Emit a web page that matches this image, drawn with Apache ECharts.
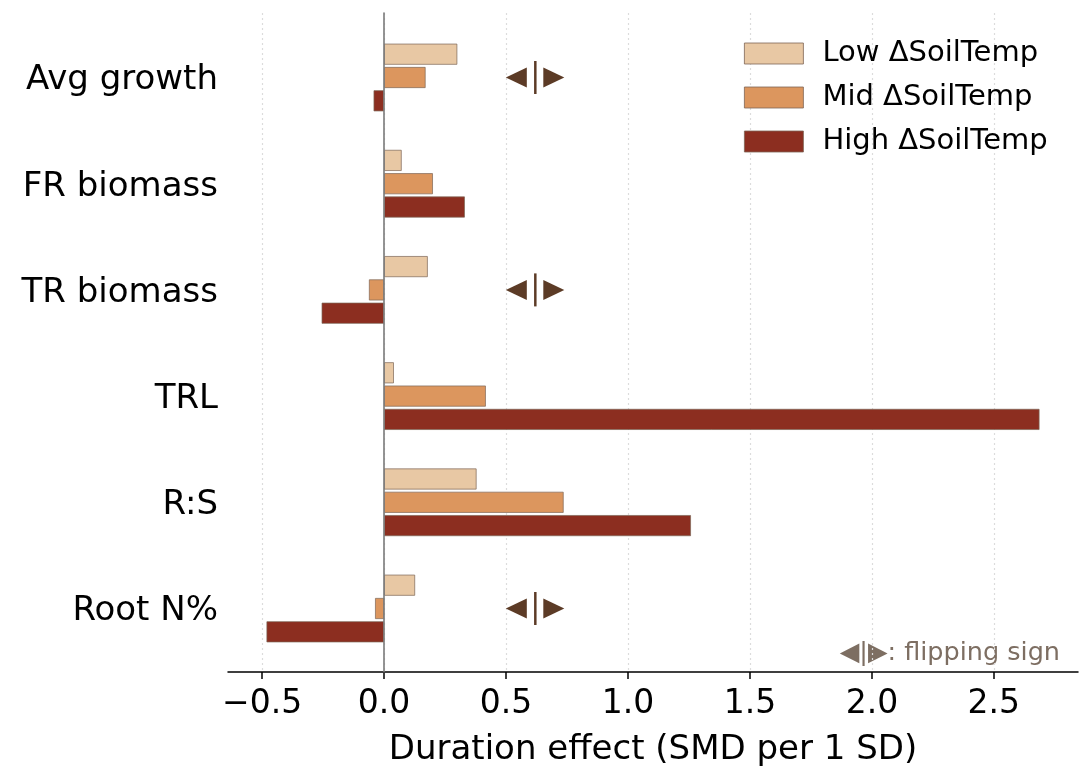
<!DOCTYPE html>
<html>
<head>
<meta charset="utf-8">
<script src="https://cdn.jsdelivr.net/npm/echarts@6/dist/echarts.min.js"></script>
<style>html,body{margin:0;padding:0;background:#fff}#c{width:1089px;height:779px}</style>
</head>
<body>
<div id="c"></div>
<script>
const categories = ['Avg growth', 'FR biomass', 'TR biomass', 'TRL', 'R:S', 'Root N%'];
const lowVals  = [0.300, 0.072, 0.179, 0.040, 0.379, 0.127];
const midVals  = [0.170, 0.200, -0.062, 0.417, 0.736, -0.037];
const highVals = [-0.043, 0.331, -0.256, 2.687, 1.258, -0.482];
const seriesNames = ['Low ΔSoilTemp', 'Mid ΔSoilTemp', 'High ΔSoilTemp'];
const flipCategories = ['Avg growth', 'TR biomass', 'Root N%'];
const flipX = 0.62;
const xTicks = [-0.5, 0, 0.5, 1.0, 1.5, 2.0, 2.5];
const xMin = -0.640, xMax = 2.845;

const colors = ['#E8C8A4', '#DC965E', '#8C2E20'];
const FONT = 'DejaVu Sans';
const fmt = v => (v < 0 ? '\u2212' : '') + Math.abs(v).toFixed(1);

const chart = echarts.init(document.getElementById('c'), null, {renderer: 'canvas'});
const barSeries = [lowVals, midVals, highVals].map((d, i) => ({
  type: 'bar', name: seriesNames[i], xAxisIndex: 1, yAxisIndex: 1,
  data: d, barWidth: 21, barGap: '11%',
  itemStyle: {color: colors[i], borderColor: '#7d6556', borderWidth: 0.7},
  silent: true, z: 2
}));
const flipData = flipCategories.map(c => [flipX, c]);
const markColor = '#5C3B26';
const flipSeries = [
  {type: 'scatter', xAxisIndex: 1, yAxisIndex: 1, data: flipData, symbol: 'triangle',
   symbolSize: [20, 21], symbolRotate: 90, symbolOffset: [-19, 0], itemStyle: {color: markColor, opacity: 1}, silent: true, z: 5},
  {type: 'scatter', xAxisIndex: 1, yAxisIndex: 1, data: flipData, symbol: 'triangle',
   symbolSize: [20, 21], symbolRotate: -90, symbolOffset: [18.5, 0], itemStyle: {color: markColor, opacity: 1}, silent: true, z: 5},
  {type: 'scatter', xAxisIndex: 1, yAxisIndex: 1, data: flipData, symbol: 'rect',
   symbolSize: [2.5, 33], itemStyle: {color: markColor, opacity: 1}, silent: true, z: 5}
];

chart.setOption({
  animation: false,
  backgroundColor: '#fff',
  textStyle: {fontFamily: FONT},
  grid: [
    {left: 228, right: 11, top: 13, bottom: 107},
    {left: 228, right: 11, top: 24.4, height: 637.2}
  ],
  xAxis: [
    {type: 'value', gridIndex: 0, min: xMin, max: xMax,
     axisLine: {show: true, onZero: false, lineStyle: {color: '#000', width: 1.5}},
     axisTick: {show: true, length: 7, customValues: xTicks, lineStyle: {color: '#000', width: 1.5}},
     axisLabel: {customValues: xTicks, formatter: fmt, fontSize: 33, color: '#000', margin: 16, fontFamily: FONT},
     splitLine: {show: true, lineStyle: {color: '#dcdcdc', type: [2, 3], width: 1.2}},
     name: 'Duration effect (SMD per 1 SD)', nameLocation: 'middle', nameGap: 61,
     nameTextStyle: {fontSize: 34, color: '#000', fontFamily: FONT}},
    {type: 'value', gridIndex: 1, min: xMin, max: xMax, show: false}
  ],
  yAxis: [
    {type: 'value', gridIndex: 0, min: 0, max: 1, z: 10,
     axisLine: {show: true, onZero: true, lineStyle: {color: '#7a7a7a', width: 1.6}},
     axisTick: {show: false}, axisLabel: {show: false}, splitLine: {show: false}},
    {type: 'category', gridIndex: 1, data: categories, inverse: true,
     axisLine: {show: false}, axisTick: {show: false}, splitLine: {show: false},
     axisLabel: {margin: 10, formatter: v => '{a|' + v + '}',
       rich: {a: {fontSize: 34, color: '#000', fontFamily: FONT, padding: [6, 0, 0, 0]}}}}
  ],
  legend: {
    orient: 'vertical', left: 739, top: 34, itemWidth: 59, itemHeight: 21, itemGap: 15,
    icon: 'rect', data: seriesNames, selectedMode: false,
    itemStyle: {borderColor: '#7d6556', borderWidth: 0.8},
    textStyle: {fontSize: 29, color: '#000', fontFamily: FONT, padding: [0, 0, 0, 14]}
  },
  graphic: [{
    type: 'text', right: 29, top: 640, silent: true,
    style: {text: '\u25C0|\u25B6: flipping sign', fontSize: 25.5, fill: '#7d6e62', fontFamily: FONT}
  }],
  series: barSeries.concat(flipSeries)
});
</script>
</body>
</html>
